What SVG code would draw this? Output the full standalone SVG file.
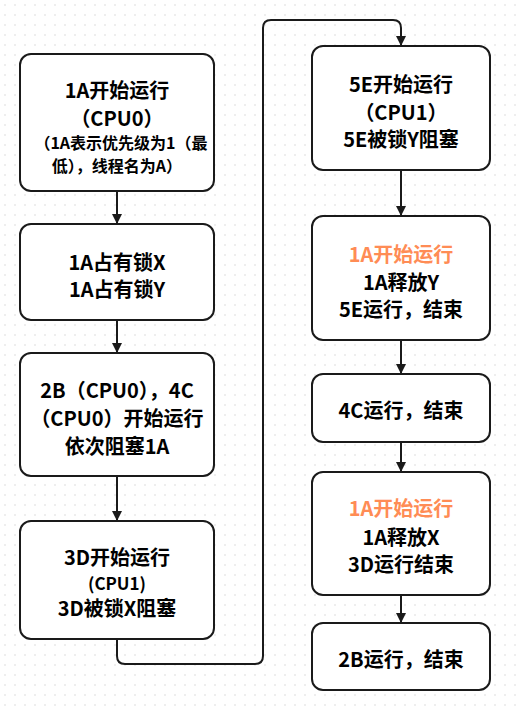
<svg xmlns="http://www.w3.org/2000/svg" width="516" height="712" viewBox="0 0 516 712">
<defs>
<pattern id="grid" width="10" height="10" patternUnits="userSpaceOnUse">
<circle cx="5" cy="5" r="0.8" fill="#d9d9d9"/>
</pattern>
<marker id="arr" viewBox="0 0 10 10" refX="10" refY="5" markerWidth="10" markerHeight="10" markerUnits="userSpaceOnUse" orient="auto">
<path d="M0,0 L10,5 L0,10 Z" fill="#1a1a1a"/>
</marker>
<style>
.box{fill:#fff;stroke:#1a1a1a;stroke-width:2}
.t{font-family:"Noto Sans CJK SC","Noto Sans",sans-serif;font-weight:bold;font-size:20px;fill:#000;text-anchor:middle;dominant-baseline:central}
.s{font-size:16px}
.m{font-size:17px}
.o{fill:#ff8c55}
.c{fill:none;stroke:#1a1a1a;stroke-width:2;marker-end:url(#arr)}
</style>
</defs>
<rect width="516" height="712" fill="#fff"/>
<rect width="516" height="712" fill="url(#grid)"/>
<g id="connectors">
<path class="c" d="M117 191 V224"/>
<path class="c" d="M117 320 V353"/>
<path class="c" d="M117 476 V521"/>
<path class="c" d="M117 639 V656 Q117 664 125 664 H255 Q263 664 263 656 V28 Q263 20 271 20 H393 Q401 20 401 28 V46"/>
<path class="c" d="M401 170 V216"/>
<path class="c" d="M401 340 V374"/>
<path class="c" d="M401 442 V472"/>
<path class="c" d="M401 595 V623"/>
</g>
<g id="n1">
<rect class="box" x="20" y="54" width="194" height="137" rx="11"/>
<text class="t" x="117" y="89">1A开始运行</text>
<text class="t" x="117" y="117">（CPU0）</text>
<text class="t s" x="121" y="142">（1A表示优先级为1（最</text>
<text class="t s" x="117" y="165">低），线程名为A）</text>
</g>
<g id="n2">
<rect class="box" x="20" y="224" width="194" height="96" rx="11"/>
<text class="t" x="117" y="261">1A占有锁X</text>
<text class="t" x="117" y="288">1A占有锁Y</text>
</g>
<g id="n3">
<rect class="box" x="20" y="353" width="194" height="123" rx="11"/>
<text class="t" x="117" y="389">2B（CPU0），4C</text>
<text class="t" x="117" y="417">（CPU0）开始运行</text>
<text class="t" x="117" y="445">依次阻塞1A</text>
</g>
<g id="n4">
<rect class="box" x="20" y="521" width="194" height="118" rx="11"/>
<text class="t" x="117" y="556">3D开始运行</text>
<text class="t m" x="117" y="582">(CPU1)</text>
<text class="t" x="117" y="607">3D被锁X阻塞</text>
</g>
<g id="n5">
<rect class="box" x="312" y="46" width="178" height="124" rx="11"/>
<text class="t" x="401" y="83">5E开始运行</text>
<text class="t" x="401" y="111">（CPU1）</text>
<text class="t" x="401" y="138">5E被锁Y阻塞</text>
</g>
<g id="n6">
<rect class="box" x="312" y="216" width="178" height="124" rx="11"/>
<text class="t o" x="401" y="253">1A开始运行</text>
<text class="t" x="401" y="281">1A释放Y</text>
<text class="t" x="401" y="308">5E运行，结束</text>
</g>
<g id="n7">
<rect class="box" x="312" y="374" width="178" height="68" rx="11"/>
<text class="t" x="401" y="409">4C运行，结束</text>
</g>
<g id="n8">
<rect class="box" x="312" y="472" width="178" height="123" rx="11"/>
<text class="t o" x="401" y="507">1A开始运行</text>
<text class="t" x="401" y="536">1A释放X</text>
<text class="t" x="401" y="563">3D运行结束</text>
</g>
<g id="n9">
<rect class="box" x="312" y="623" width="178" height="67" rx="11"/>
<text class="t" x="401" y="658">2B运行，结束</text>
</g>
</svg>
